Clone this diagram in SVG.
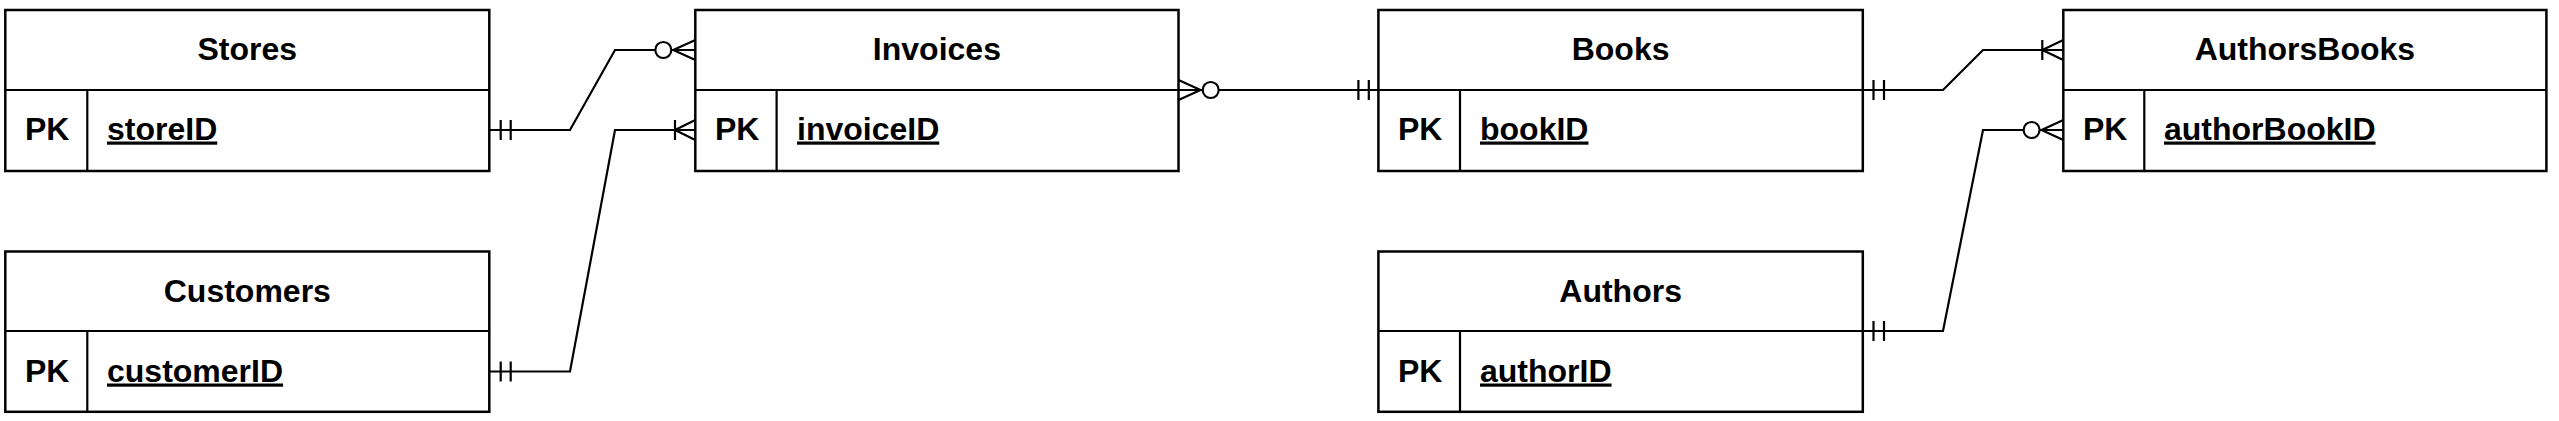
<svg xmlns="http://www.w3.org/2000/svg" width="2559" height="421" viewBox="0 0 2559 421">
<style>
.box{fill:#fff;stroke:#000;stroke-width:2.5}
.ln{fill:none;stroke:#000;stroke-width:2.2}
.t{font-family:"Liberation Sans",Arial,Helvetica,sans-serif;font-weight:bold;font-size:32px;fill:#000}
.c{text-anchor:middle}
.u{text-decoration:underline}
.conn{fill:none;stroke:#000;stroke-width:2.2}
.circ{fill:#fff;stroke:#000;stroke-width:2.2}
</style>
<rect width="2559" height="421" fill="#fff"/>

<g id="connectors">
  <!-- Stores -> Invoices -->
  <path class="conn" d="M489.3,130 L570,130 L615,50 L695.3,50"/>
  <path class="conn" d="M500.7,120 V140 M510.7,120 V140"/>
  <circle class="circ" cx="663.3" cy="50" r="8"/>
  <path class="conn" d="M695.3,40 L673.3,50 L695.3,60"/>
  <!-- Customers -> Invoices -->
  <path class="conn" d="M489.3,371.5 L570,371.5 L615,130 L695.3,130"/>
  <path class="conn" d="M500.7,361.5 V381.5 M510.7,361.5 V381.5"/>
  <path class="conn" d="M675,120 V140 M695.3,120 L675,130 L695.3,140"/>
  <!-- Invoices -> Books -->
  <path class="conn" d="M1178.5,90 L1378.4,90"/>
  <path class="conn" d="M1178.5,80 L1200.5,90 L1178.5,100"/>
  <circle class="circ" cx="1210.7" cy="90" r="8"/>
  <path class="conn" d="M1358.4,80 V100 M1368.8,80 V100"/>
  <!-- Books -> AuthorsBooks -->
  <path class="conn" d="M1862.8,90 L1943,90 L1983,50 L2063.3,50"/>
  <path class="conn" d="M1873.5,80 V100 M1884,80 V100"/>
  <path class="conn" d="M2042.3,40 V60 M2063.3,40 L2042.3,50 L2063.3,60"/>
  <!-- Authors -> AuthorsBooks -->
  <path class="conn" d="M1862.8,331 L1943,331 L1983,130 L2063.3,130"/>
  <path class="conn" d="M1873.5,321 V341 M1884,321 V341"/>
  <circle class="circ" cx="2031.6" cy="130" r="8"/>
  <path class="conn" d="M2063.3,120 L2041.6,130 L2063.3,140"/>
</g>

<g id="Stores">
  <rect class="box" x="5.3" y="10" width="484" height="161"/>
  <path class="ln" d="M5.3,90 H489.3 M87.3,90 V171"/>
  <text class="t c" x="247.3" y="60">Stores</text>
  <text class="t" x="25" y="139.5">PK</text>
  <text class="t u" x="107" y="139.5">storeID</text>
</g>

<g id="Customers">
  <rect class="box" x="5.3" y="251.5" width="484" height="160.3"/>
  <path class="ln" d="M5.3,331 H489.3 M87.3,331 V411.8"/>
  <text class="t c" x="247.3" y="301.5">Customers</text>
  <text class="t" x="25" y="381.5">PK</text>
  <text class="t u" x="107" y="381.5">customerID</text>
</g>

<g id="Invoices">
  <rect class="box" x="695.3" y="10" width="483.2" height="161"/>
  <path class="ln" d="M695.3,90 H1178.5 M776.6,90 V171"/>
  <text class="t c" x="936.9" y="60">Invoices</text>
  <text class="t" x="715" y="139.5">PK</text>
  <text class="t u" x="797" y="139.5">invoiceID</text>
</g>

<g id="Books">
  <rect class="box" x="1378.4" y="10" width="484.4" height="161"/>
  <path class="ln" d="M1378.4,90 H1862.8 M1460,90 V171"/>
  <text class="t c" x="1620.6" y="60">Books</text>
  <text class="t" x="1398" y="139.5">PK</text>
  <text class="t u" x="1480" y="139.5">bookID</text>
</g>

<g id="Authors">
  <rect class="box" x="1378.4" y="251.5" width="484.4" height="160.3"/>
  <path class="ln" d="M1378.4,331 H1862.8 M1460,331 V411.8"/>
  <text class="t c" x="1620.6" y="301.5">Authors</text>
  <text class="t" x="1398" y="381.5">PK</text>
  <text class="t u" x="1480" y="381.5">authorID</text>
</g>

<g id="AuthorsBooks">
  <rect class="box" x="2063.3" y="10" width="483.1" height="161"/>
  <path class="ln" d="M2063.3,90 H2546.4 M2144.3,90 V171"/>
  <text class="t c" x="2304.9" y="60">AuthorsBooks</text>
  <text class="t" x="2083" y="139.5">PK</text>
  <text class="t u" x="2164" y="139.5">authorBookID</text>
</g>
</svg>
